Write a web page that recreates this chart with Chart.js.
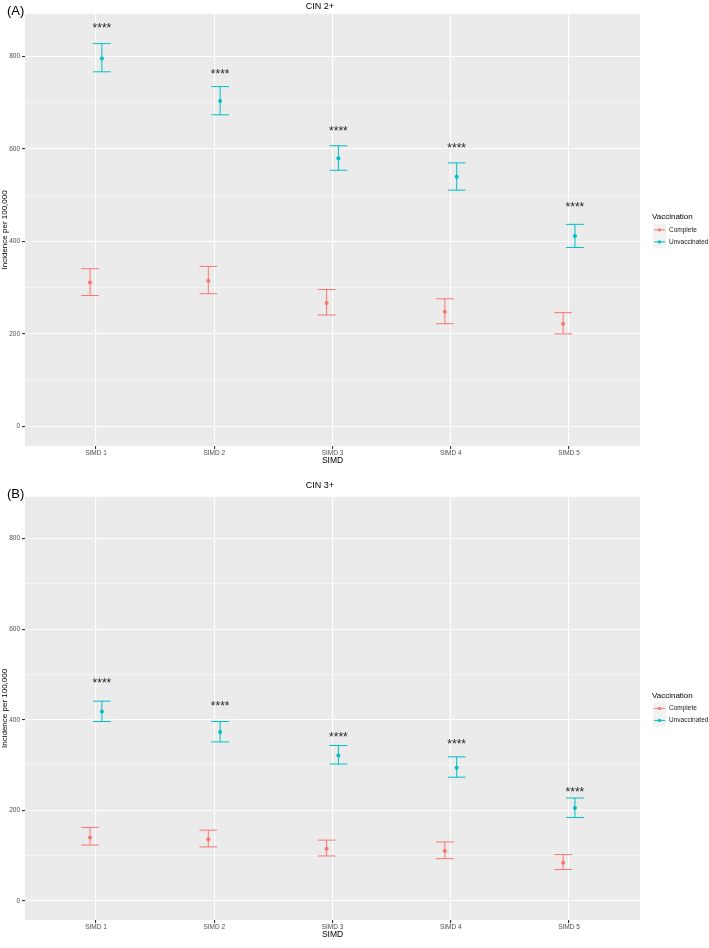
<!DOCTYPE html>
<html>
<head>
<meta charset="utf-8">
<script src="https://cdn.jsdelivr.net/npm/chart.js@4.4.0/dist/chart.umd.min.js"></script>
<style>
  html, body { margin: 0; padding: 0; background: #fff; }
  .panel { position: absolute; left: 0; width: 709px; height: 474px; }
  #wrapA { top: 0; }
  #wrapB { top: 474px; }
</style>
</head>
<body>
<div class="panel" id="wrapA"><canvas id="cin2" width="709" height="474"></canvas></div>
<div class="panel" id="wrapB"><canvas id="cin3" width="709" height="474"></canvas></div>
<script>
const simd = ['SIMD 1', 'SIMD 2', 'SIMD 3', 'SIMD 4', 'SIMD 5'];
const yTicks = [0, 100, 200, 300, 400, 500, 600, 700, 800];
const groups = ['Complete', 'Unvaccinated'];

// CIN 2+
const cin2Complete = [311, 315, 267, 248, 222];
const cin2CompleteLow = [283, 287, 241, 222, 200];
const cin2CompleteHigh = [341, 346, 296, 276, 246];
const cin2Unvacc = [796, 704, 580, 540, 412];
const cin2UnvaccLow = [767, 674, 554, 511, 387];
const cin2UnvaccHigh = [828, 735, 607, 570, 437];
const cin2Stars = [867, 767, 643, 607, 480];

// CIN 3+
const cin3Complete = [140, 136, 115, 110, 84];
const cin3CompleteLow = [123, 119, 99, 93, 69];
const cin3CompleteHigh = [162, 156, 134, 130, 102];
const cin3Unvacc = [418, 373, 321, 294, 205];
const cin3UnvaccLow = [396, 351, 302, 273, 184];
const cin3UnvaccHigh = [441, 396, 343, 318, 227];
const cin3Stars = [486, 435, 367, 352, 246];

const colComplete = '#F8766D';
const colUnvacc = '#00BFC4';
const dodge = 0.05;
const capHalf = 0.075;
const fam = '"Liberation Sans", Arial, sans-serif';

function points(vals, off) {
    return vals.map((v, i) => ({x: i + 1 + off, y: v}));
}

const panelBg = {
    id: 'panelBg',
    beforeDraw(chart) {
        const {ctx, chartArea: a} = chart;
        ctx.save();
        ctx.fillStyle = '#EBEBEB';
        ctx.fillRect(a.left, a.top, a.right - a.left, a.bottom - a.top);
        ctx.restore();
    }
};

const errorBars = {
    id: 'errorBars',
    beforeDatasetsDraw(chart) {
        const ctx = chart.ctx;
        const xs = chart.scales.x, ys = chart.scales.y;
        chart.data.datasets.forEach((ds) => {
            ctx.save();
            ctx.strokeStyle = ds.borderColor;
            ctx.lineWidth = 1;
            ds.data.forEach((p, i) => {
                const x = xs.getPixelForValue(p.x);
                const x0 = xs.getPixelForValue(p.x - capHalf);
                const x1 = xs.getPixelForValue(p.x + capHalf);
                const yl = ys.getPixelForValue(ds.lower[i]);
                const yh = ys.getPixelForValue(ds.upper[i]);
                ctx.beginPath();
                ctx.moveTo(x, yl); ctx.lineTo(x, yh);
                ctx.moveTo(x0, yl); ctx.lineTo(x1, yl);
                ctx.moveTo(x0, yh); ctx.lineTo(x1, yh);
                ctx.stroke();
            });
            ctx.restore();
        });
    }
};

const extras = {
    id: 'extras',
    afterDraw(chart, args, opts) {
        const {ctx, chartArea: a} = chart;
        const xs = chart.scales.x, ys = chart.scales.y;
        ctx.save();
        // significance stars
        ctx.fillStyle = '#262626';
        ctx.font = '12px ' + fam;
        ctx.textAlign = 'center';
        ctx.textBaseline = 'middle';
        opts.stars.forEach((v, i) => {
            ctx.fillText('****', xs.getPixelForValue(i + 1 + dodge), ys.getPixelForValue(v) + 3);
        });
        // panel tag
        ctx.fillStyle = '#000';
        ctx.textAlign = 'left';
        ctx.font = '13px ' + fam;
        ctx.fillText(opts.tag, 7, a.top - 2);
        // legend
        const lx = a.right + 12;
        const cy = (a.top + a.bottom) / 2;
        ctx.font = '8px ' + fam;
        ctx.fillText('Vaccination', lx, cy - 13);
        chart.data.datasets.forEach((ds, i) => {
            const ky = cy + i * 12;
            ctx.fillStyle = '#F2F2F2';
            ctx.fillRect(lx + 1, ky - 6, 13, 12);
            ctx.strokeStyle = ds.borderColor;
            ctx.lineWidth = 1;
            ctx.beginPath();
            ctx.moveTo(lx + 2, ky); ctx.lineTo(lx + 13, ky);
            ctx.stroke();
            ctx.fillStyle = ds.borderColor;
            ctx.beginPath();
            ctx.arc(lx + 7.5, ky, 1.6, 0, Math.PI * 2);
            ctx.fill();
            ctx.fillStyle = '#1a1a1a';
            ctx.font = '6.5px ' + fam;
            ctx.fillText(ds.label, lx + 17, ky);
        });
        ctx.restore();
    }
};

function drawPanel(canvas, title, tag, topPad, comp, compLo, compHi, unv, unvLo, unvHi, stars) {
    const ctx = document.getElementById(canvas).getContext('2d');
    return new Chart(ctx, {
        type: 'scatter',
        data: {
            datasets: [{
                label: groups[0],
                data: points(comp, -dodge),
                lower: compLo, upper: compHi,
                borderColor: colComplete,
                backgroundColor: colComplete,
                pointRadius: 2, pointBorderWidth: 0, pointHoverRadius: 2
            }, {
                label: groups[1],
                data: points(unv, dodge),
                lower: unvLo, upper: unvHi,
                borderColor: colUnvacc,
                backgroundColor: colUnvacc,
                pointRadius: 2, pointBorderWidth: 0, pointHoverRadius: 2
            }]
        },
        options: {
            responsive: false,
            animation: false,
            layout: { padding: { top: topPad, right: 69, left: 0, bottom: 8 } },
            scales: {
                x: {
                    type: 'linear',
                    min: 0.4, max: 5.6,
                    afterBuildTicks: (s) => { s.ticks = simd.map((_, i) => ({value: i + 1})); },
                    afterFit: (s) => { s.height = 20; },
                    ticks: {
                        autoSkip: false, maxRotation: 0, padding: 0,
                        color: '#4D4D4D',
                        font: { family: fam, size: 6.5 },
                        callback: (v) => simd[v - 1]
                    },
                    grid: { color: '#FFFFFF', lineWidth: 1.1, tickLength: 3, tickColor: '#333333' },
                    border: { display: false },
                    title: {
                        display: true, text: 'SIMD', color: '#000', padding: 0,
                        font: { family: fam, size: 8.5 }
                    }
                },
                y: {
                    min: -42.5, max: 892.5,
                    afterBuildTicks: (s) => { s.ticks = yTicks.map(v => ({value: v})); },
                    afterFit: (s) => { s.width = 25; },
                    ticks: {
                        autoSkip: false, padding: 2,
                        color: '#4D4D4D',
                        font: { family: fam, size: 6.5 },
                        callback: (v) => (v % 200 === 0 ? v : '')
                    },
                    grid: {
                        color: '#FFFFFF',
                        lineWidth: (c) => (c.tick && c.tick.value % 200 === 0 ? 1.1 : 0.5),
                        tickLength: 3,
                        tickColor: (c) => (c.tick && c.tick.value % 200 === 0 ? '#333333' : 'rgba(0,0,0,0)')
                    },
                    border: { display: false },
                    title: {
                        display: true, text: 'Incidence per 100,000', color: '#000',
                        padding: { top: 0, bottom: 0, left: 0, right: 0 },
                        font: { family: fam, size: 8 }
                    }
                }
            },
            plugins: {
                legend: { display: false },
                tooltip: { enabled: false },
                title: {
                    display: true, text: title, color: '#000',
                    padding: { top: 1, bottom: topPad > 0 ? 6 : 2 },
                    font: { family: fam, size: 9, weight: 'normal' }
                },
                extras: { stars: stars, tag: tag }
            }
        },
        plugins: [panelBg, errorBars, extras]
    });
}

drawPanel('cin2', 'CIN 2+', '(A)', 0, cin2Complete, cin2CompleteLow, cin2CompleteHigh,
    cin2Unvacc, cin2UnvaccLow, cin2UnvaccHigh, cin2Stars);
drawPanel('cin3', 'CIN 3+', '(B)', 5, cin3Complete, cin3CompleteLow, cin3CompleteHigh,
    cin3Unvacc, cin3UnvaccLow, cin3UnvaccHigh, cin3Stars);
</script>
</body>
</html>
